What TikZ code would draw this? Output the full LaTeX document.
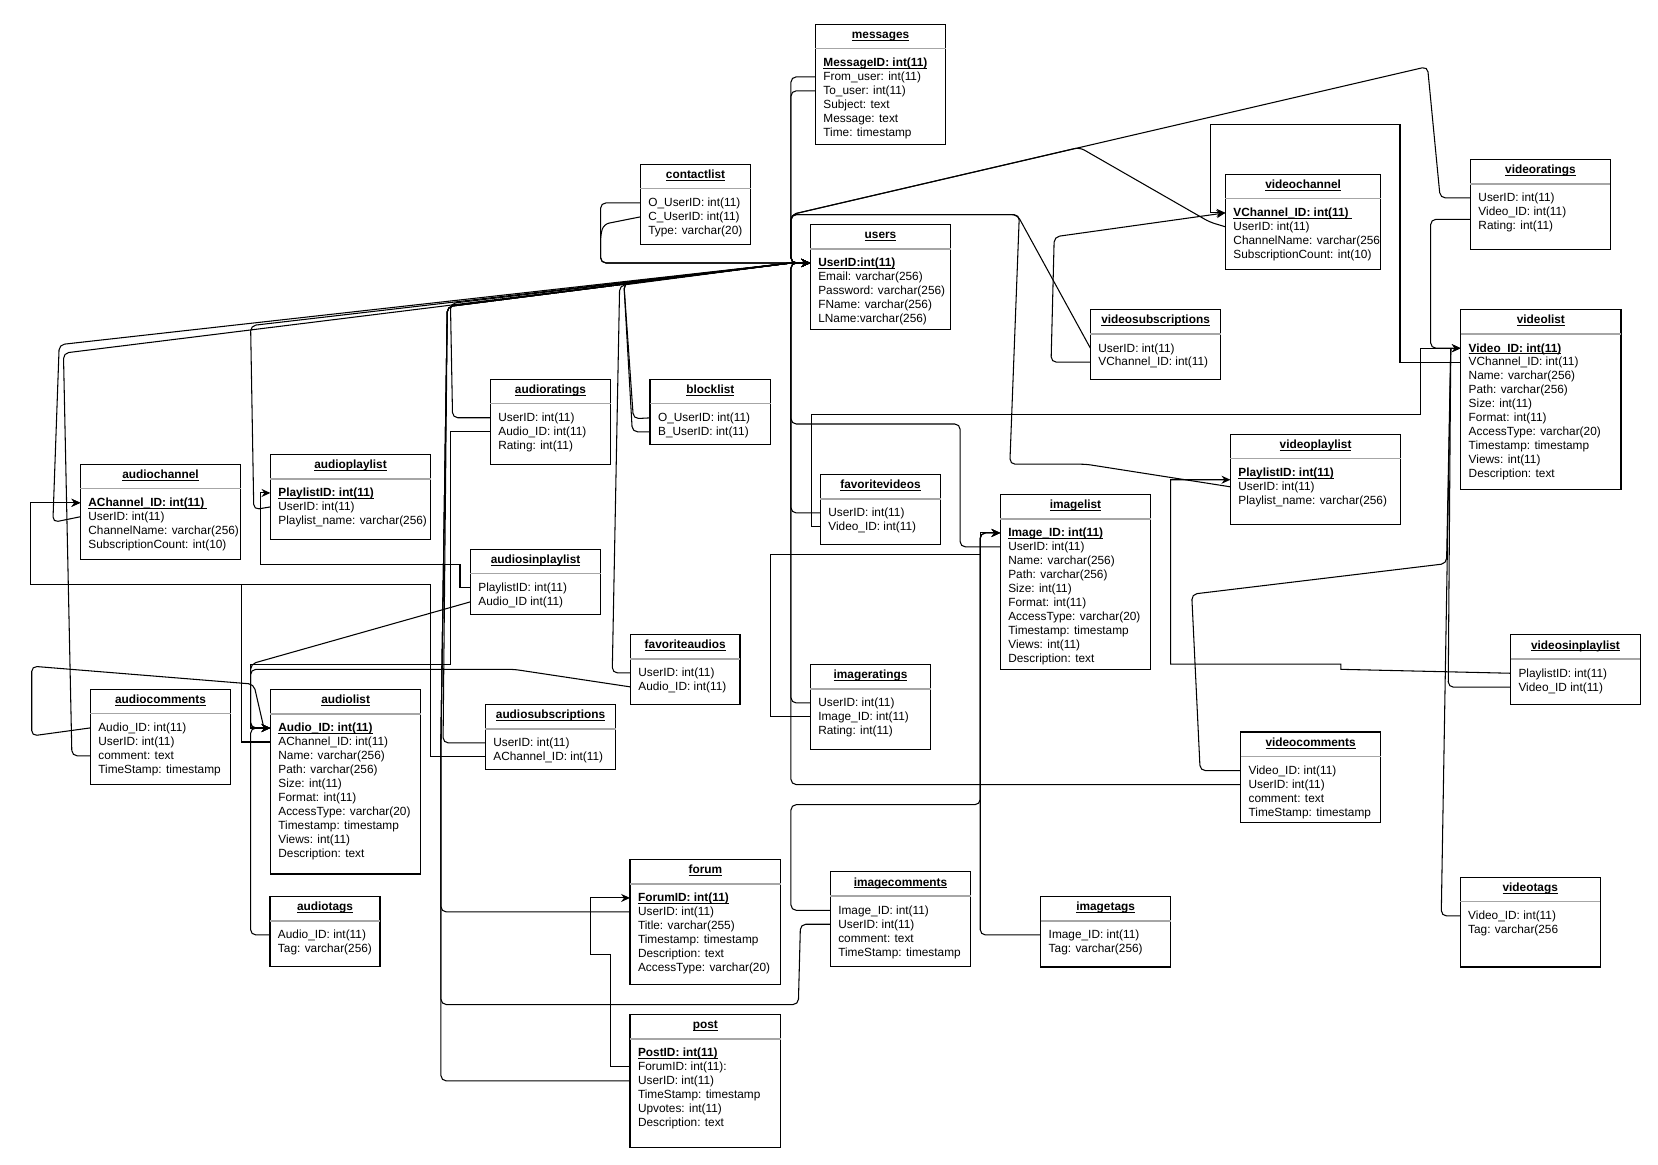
\documentclass[tikz,border=0pt]{standalone}
\usepackage{fontspec}
\setmainfont{Liberation Sans}
\usetikzlibrary{arrows.meta,fit,calc}

\newcommand{\tabfont}{\fontsize{5.6}{6.6}\selectfont}
% thin underline sitting just below the baseline
\newcommand{\ul}[1]{\setbox0\hbox{#1}\rlap{\rule[-0.85pt]{\wd0}{0.33pt}}\box0}
\newcommand{\pk}[1]{\ul{\bfseries #1}}
% \ertable{name}{x1}{y1}{x2}{y2}{title}{rows}
\newcommand{\ertable}[7]{%
  \node[tblbox, fit={(#2,#3) (#4,#5)}] (#1) {};
  \node[tbltitle] (#1-t) at ({(#2+#4)/2}, #3+10) {\ul{\bfseries #6}};
  \draw[tblsep] (#2,#3+23) -- (#4,#3+23);
  \foreach \rowtext [count=\i from 0] in {#7}
    \node[tblrow] (#1-\i) at (#2+7.6, #3+36.5+13.2*\i) {\rowtext};
}

\begin{document}
\begin{tikzpicture}[x=0.5pt,y=-0.5pt,
  tblbox/.style={draw=black, line width=0.6pt, inner sep=0pt, outer sep=0pt},
  tblsep/.style={draw=black!35, line width=0.8pt},
  tbltitle/.style={inner sep=0pt, outer sep=0pt, text height=4.2pt, text depth=0.6pt, font=\tabfont},
  tblrow/.style={anchor=west, inner sep=0pt, outer sep=0pt, text height=4.2pt, text depth=0.6pt, font=\tabfont},
  fk/.style={draw=black, line width=0.5pt, rounded corners=2.5pt},
  fksharp/.style={draw=black, line width=0.5pt},
  tip/.style={-{Stealth[length=4.2pt,width=3.8pt]}}]

\fill[white] (0,0) rectangle (1568,1101);
\useasboundingbox (0,0) rectangle (1568,1101);

% ---------- tables ----------
\ertable{msg}{771.1}{23}{894.4}{136.5}{messages}{\pk{MessageID: int(11)}, From\_user: int(11), To\_user: int(11), Subject: text, Message: text, Time: timestamp}
\ertable{contact}{605.6}{155.4}{710}{231.1}{contactlist}{O\_UserID: int(11), C\_UserID: int(11), Type: varchar(20)}
\ertable{users}{766.3}{212.2}{899.1}{311.4}{users}{\pk{UserID:int(11)}, Email: varchar(256), Password: varchar(256), FName: varchar(256), LName:varchar(256)}
\ertable{vchan}{1158.9}{164.8}{1305.8}{254.7}{videochannel}{\pk{VChannel\_ID: int(11)\ }, UserID: int(11), ChannelName: varchar(256, SubscriptionCount: int(10)}
\ertable{vrat}{1390.6}{150.7}{1523}{235.8}{videoratings}{UserID: int(11), Video\_ID: int(11), Rating: int(11)}
\ertable{vsub}{1031.2}{292.8}{1154.4}{358.7}{videosubscriptions}{UserID: int(11), VChannel\_ID: int(11)}
\ertable{vlist}{1381.4}{292.8}{1533}{462.7}{videolist}{\pk{Video\_ID: int(11)}, VChannel\_ID: int(11), Name: varchar(256), Path: varchar(256), Size: int(11), Format: int(11), AccessType: varchar(20), Timestamp: timestamp, Views: int(11), Description: text}
\ertable{arat}{463.7}{358.6}{577.5}{439.1}{audioratings}{UserID: int(11), Audio\_ID: int(11), Rating: int(11)}
\ertable{block}{614.8}{358.7}{728.8}{420.2}{blocklist}{O\_UserID: int(11), B\_UserID: int(11)}
\ertable{vplay}{1163.6}{410.7}{1324.7}{495.8}{videoplaylist}{\pk{PlaylistID: int(11)}, UserID: int(11), Playlist\_name: varchar(256)}
\ertable{fvid}{775.8}{448.6}{889.6}{514.8}{favoritevideos}{UserID: int(11), Video\_ID: int(11)}
\ertable{imglist}{946}{467.5}{1088.2}{633}{imagelist}{\pk{Image\_ID: int(11)}, UserID: int(11), Name: varchar(256), Path: varchar(256), Size: int(11), Format: int(11), AccessType: varchar(20), Timestamp: timestamp, Views: int(11), Description: text}
\ertable{achan}{76}{439}{227.6}{529}{audiochannel}{\pk{AChannel\_ID: int(11)\ }, UserID: int(11), ChannelName: varchar(256), SubscriptionCount: int(10)}
\ertable{aplay}{255.7}{429.7}{407.3}{510}{audioplaylist}{\pk{PlaylistID: int(11)}, UserID: int(11), Playlist\_name: varchar(256)}
\ertable{aisp}{444.8}{519.5}{568.1}{581}{audiosinplaylist}{PlaylistID: int(11), Audio\_ID int(11)}
\ertable{fau}{596.1}{599.9}{699.9}{666.1}{favoriteaudios}{UserID: int(11), Audio\_ID: int(11)}
\ertable{imgrat}{766.3}{628.3}{880.2}{708.6}{imageratings}{UserID: int(11), Image\_ID: int(11), Rating: int(11)}
\ertable{visp}{1428.5}{600.2}{1551.4}{666.3}{videosinplaylist}{PlaylistID: int(11), Video\_ID int(11)}
\ertable{acom}{85.4}{651.9}{218.2}{741.7}{audiocomments}{Audio\_ID: int(11), UserID: int(11), comment: text, TimeStamp: timestamp}
\ertable{alist}{255.7}{652}{398}{826.5}{audiolist}{\pk{Audio\_ID: int(11)}, AChannel\_ID: int(11), Name: varchar(256), Path: varchar(256), Size: int(11), Format: int(11), AccessType: varchar(20), Timestamp: timestamp, Views: int(11), Description: text}
\ertable{asub}{459}{666.1}{582.3}{727.6}{audiosubscriptions}{UserID: int(11), AChannel\_ID: int(11)}
\ertable{vcom}{1173.2}{692.3}{1305.7}{777.6}{videocomments}{Video\_ID: int(11), UserID: int(11), comment: text, TimeStamp: timestamp}
\ertable{forum}{595.8}{812.7}{738.3}{930.9}{forum}{\pk{ForumID: int(11)}, UserID: int(11), Title: varchar(255), Timestamp: timestamp, Description: text, AccessType: varchar(20)}
\ertable{imgcom}{785.2}{824.4}{918}{914}{imagecomments}{Image\_ID: int(11), UserID: int(11), comment: text, TimeStamp: timestamp}
\ertable{imgtag}{984.2}{847.7}{1107}{914.4}{imagetags}{Image\_ID: int(11), Tag: varchar(256)}
\ertable{vtag}{1380.9}{829.7}{1513.4}{914.4}{videotags}{Video\_ID: int(11), Tag: varchar(256}
\ertable{atag}{255.3}{847.7}{359.4}{914}{audiotags}{Audio\_ID: int(11), Tag: varchar(256)}
\ertable{post}{595.8}{959.3}{738.3}{1085}{post}{\pk{PostID: int(11)}, ForumID: int(11):, UserID: int(11), TimeStamp: timestamp, Upvotes: int(11), Description: text}

% junction points where several links merge
\coordinate (vlistjoin) at (1372,329.3);
\coordinate (alistjoin) at (249,686);

% ---------- links to users.UserID ----------
\draw[fk,tip] (contact.west |- contact-0) -- (568,191.9) -- (568,248.7) -- (users.west |- users-0);
\draw[fk,tip] (contact.west |- contact-1) -- (571,212) -- (568,222) -- (568,248.7) -- (users.west |- users-0);
\draw[fk,tip] (msg.west |- msg-1) -- (748,72.7) -- (748,248.7) -- (users.west |- users-0);
\draw[fk,tip] (msg.west |- msg-2) -- (748,85.9) -- (748,248.7) -- (users.west |- users-0);
\draw[fk,tip] (vrat.west |- vrat-0) -- (1362,187.2) -- (1350,63) -- (748,203) -- (748,248.7) -- (users.west |- users-0);
\draw[fk,tip] (vchan.west |- vchan-1) -- (1144,210) -- (1021,139.4) -- (748,203) -- (748,248.7) -- (users.west |- users-0);
\draw[fk,tip] (vsub.west |- vsub-0) -- (962,203) -- (748,203) -- (748,248.7) -- (users.west |- users-0);
\draw[fk,tip] (vplay.west |- vplay-1) -- (1027,439) -- (955,439) -- (964,203) -- (748,203) -- (748,248.7) -- (users.west |- users-0);
\draw[fk,tip] (fvid.west |- fvid-0) -- (748,485.1) -- (748,248.7) -- (users.west |- users-0);
\draw[fk,tip] (imglist.west |- imglist-1) -- (908,517.2) -- (908,401) -- (748,401) -- (748,248.7) -- (users.west |- users-0);
\draw[fk,tip] (imgrat.west |- imgrat-0) -- (748,664.8) -- (748,248.7) -- (users.west |- users-0);
\draw[fk,tip] (vcom.west |- vcom-1) -- (748,742) -- (748,248.7) -- (users.west |- users-0);
\draw[fk,tip] (achan.west |- achan-1) -- (50,494) -- (56,326) -- (748,248.7) -- (users.west |- users-0);
\draw[fk,tip] (acom.west |- acom-2) -- (68,714.8) -- (60,334) -- (748,248.7) -- (users.west |- users-0);
\draw[fk,tip] (aplay.west |- aplay-1) -- (240,482) -- (237,308) -- (748,248.7) -- (users.west |- users-0);
\draw[fk,tip] (arat.west |- arat-0) -- (428,395.1) -- (426,287) -- (748,248.7) -- (users.west |- users-0);
\draw[fk,tip] (asub.west |- asub-0) -- (419,702.6) -- (423,290) -- (748,248.7) -- (users.west |- users-0);
\draw[fk,tip] (forum.west |- forum-1) -- (417,862.4) -- (417,700) -- (423,290) -- (748,248.7) -- (users.west |- users-0);
\draw[fk,tip] (imgcom.west |- imgcom-1) -- (757,874.1) -- (755,950) -- (417,950) -- (417,700) -- (423,290) -- (748,248.7) -- (users.west |- users-0);
\draw[fk,tip] (post.west |- post-2) -- (417,1022.2) -- (417,700) -- (423,290) -- (748,248.7) -- (users.west |- users-0);
\draw[fk,tip] (block.west |- block-0) -- (599,396) -- (590,268) -- (748,248.7) -- (users.west |- users-0);
\draw[fk,tip] (block.west |- block-1) -- (598,408.4) -- (590,268) -- (748,248.7) -- (users.west |- users-0);
\draw[fk,tip] (fau.west |- fau-0) -- (579,636.4) -- (586,270) -- (748,248.7) -- (users.west |- users-0);

% ---------- video links ----------
\draw[fksharp,tip] (vlist.west |- vlist-1) -- (1324,342.5) -- (1324,117.5) -- (1145,117.5) -- (1145,201.3) -- (vchan.west |- vchan-0);
\draw[fk,tip] (vsub.west |- vsub-1) -- (994,342.5) -- (997,224) -- (vchan.west |- vchan-0);
\draw[fksharp,tip] (fvid.west |- fvid-1) -- (767,498.3) -- (767,392) -- (1343,392) -- (1343,329.3) -- (vlist.west |- vlist-0);
\draw[fk,tip] ($(vrat.west |- vrat-1)+(0,7)$) -- (1353,207.4) -- (1353,329.3) -- (vlist.west |- vlist-0);
\draw[fk] (vtag.west |- vtag-0) -- (1363,866.2) -- (vlistjoin);
\draw[fk] (visp.west |- visp-1) -- (1369.6,649.9) -- (vlistjoin);
\draw[fk] (vcom.west |- vcom-0) -- (1135,728.8) -- (1127,562) -- (1368,533) -- (vlistjoin);
\draw[fksharp,tip] (visp.west |- visp-0) -- (1268,633) -- (1268,628) -- (1107,628) -- (1107,453.7) -- ($(vplay.west |- vplay-0)+(0,6.5)$);

% ---------- image links ----------
\draw[fk,tip] (imgcom.west |- imgcom-0) -- (748,860.9) -- (748,761) -- (927,761) -- (927,504) -- (imglist.west |- imglist-0);
\draw[fk,tip] (imgtag.west |- imgtag-0) -- (927,884.2) -- (927,504) -- (imglist.west |- imglist-0);
\draw[fksharp,tip] (imgrat.west |- imgrat-1) -- (729,678) -- (729,524) -- (927,524) -- (927,504) -- (imglist.west |- imglist-0);

% ---------- audio links ----------
\draw[fk] (acom.west |- acom-0) -- (30,696) -- (30,630) -- (240,647) -- (alistjoin);
\draw[fksharp,tip] (arat.west |- arat-1) -- (426,408.3) -- (426,628) -- (237,628) -- (237,688.5) -- (alist.west |- alist-0);
\draw[fk,tip] (aisp.west |- aisp-1) -- (237,628) -- (237,688.5) -- (alist.west |- alist-0);
\draw[fk,tip] (fau.west |- fau-1) -- (486,633) -- (237,633) -- (237,688.5) -- (alist.west |- alist-0);
\draw[fk,tip] (atag.west |- atag-0) -- (237,884.2) -- (237,688.5) -- (alist.west |- alist-0);
\draw[fksharp,tip] (alist.west |- alist-1) -- (228,701.7) -- (228,553) -- (29,553) -- (29,475.5) -- (achan.west |- achan-0);
\draw[fksharp,tip] (asub.west |- asub-1) -- (407,715.8) -- (407,553) -- (29,553) -- (29,475.5) -- (achan.west |- achan-0);
\draw[fksharp,tip] (aisp.west |- aisp-0) -- (435,556) -- (435,534) -- (246.5,534) -- (246.5,466.2) -- (aplay.west |- aplay-0);

% ---------- forum links ----------
\draw[fksharp,tip] (post.west |- post-1) -- (577.5,1009) -- (577.5,902.5) -- (558.6,902.5) -- (558.6,849.2) -- (forum.west |- forum-0);

\end{tikzpicture}
\end{document}
